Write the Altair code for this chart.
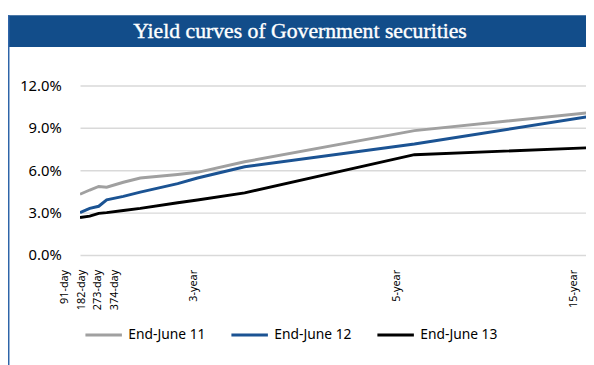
import altair as alt
import pandas as pd

# ---- data ----
positions = [0, 0.38, 0.73, 1.04, 1.69, 2.35, 3.81, 4.58, 6.42, 13.04, 20]
june11 = [4.3, 4.6, 4.85, 4.8, 5.15, 5.45, 5.7, 5.85, 6.6, 8.8, 10.1]
june12 = [3.0, 3.3, 3.45, 3.9, 4.15, 4.45, 5.05, 5.45, 6.25, 7.85, 9.85]
june13 = [2.65, 2.75, 2.95, 3.0, 3.15, 3.3, 3.7, 3.9, 4.4, 7.1, 7.6]
series = ["End-June 11", "End-June 12", "End-June 13"]
colors = ["#a0a0a0", "#1b5393", "#000000"]
tick_labels = ["91-day", "182-day", "273-day", "374-day", "3-year", "5-year", "15-year"]
tick_label_pos = [-0.58, 0.08, 0.69, 1.38, 4.46, 12.38, 19.27]
tick_marks = list(range(0, 20))
y_ticks = [0, 3, 6, 9, 12]
title = "Yield curves of Government securities"

X_DOMAIN = [0, 19.73]

df = pd.DataFrame({"pos": positions, series[0]: june11, series[1]: june12, series[2]: june13})
long = df.melt(id_vars="pos", var_name="series", value_name="yield")
labels_df = pd.DataFrame({"lpos": tick_label_pos, "label": tick_labels})
title_df = pd.DataFrame({"t": [title]})

xscale = alt.Scale(domain=X_DOMAIN, nice=False, zero=False)

lines = alt.Chart(long).mark_line(strokeWidth=3, clip=True).encode(
    x=alt.X("pos:Q", scale=xscale,
            axis=alt.Axis(title=None, labels=False, grid=False, values=tick_marks,
                          domainColor="#d0d0d0", domainWidth=1.5, tickColor="#c8c8c8",
                          tickWidth=1.5, tickSize=6)),
    y=alt.Y("yield:Q", scale=alt.Scale(domain=[0, 12], nice=False),
            axis=alt.Axis(title=None, values=y_ticks, grid=True, gridColor="#d9d9d9",
                          gridWidth=1.5, domain=False, ticks=False, labelPadding=19,
                          labelFont="Noto Sans", labelFontSize=15, labelColor="#000000",
                          labelExpr="format(datum.value, '.1f') + '%'")),
    color=alt.Color("series:N", scale=alt.Scale(domain=series, range=colors),
                    legend=alt.Legend(title=None, orient="none", legendX=4, legendY=233,
                                      direction="horizontal", symbolType="stroke",
                                      symbolSize=1369, symbolStrokeWidth=3,
                                      labelFont="Noto Sans", labelFontSize=14,
                                      labelColor="#000000", labelOffset=5,
                                      columnPadding=19)),
    order="pos:Q",
)

xlabels = alt.Chart(labels_df).mark_text(
    angle=270, align="right", baseline="middle", font="Noto Sans", fontSize=11, color="#000000"
).encode(
    x=alt.X("lpos:Q", scale=xscale, axis=None),
    y=alt.value(187),
    text="label:N",
)

bar = alt.Chart(title_df).mark_rect(color="#124d8a").encode(
    x=alt.value(-74), x2=alt.value(513), y=alt.value(-71), y2=alt.value(-39)
)
title_text = alt.Chart(title_df).mark_text(
    font="Liberation Serif", fontSize=22, color="white", stroke="white", strokeWidth=0.4,
    align="center", baseline="middle"
).encode(x=alt.value(223), y=alt.value(-55), text="t:N")
border = alt.Chart(title_df).mark_rule(color="#2e64a8", strokeWidth=2).encode(
    x=alt.value(-72.5), y=alt.value(-71), y2=alt.value(290)
)

chart = alt.layer(bar, title_text, border, lines, xlabels).properties(
    width=513, height=172,
    padding={"left": 73, "top": 76, "right": 0, "bottom": 109},
    autosize="none",
).configure_view(stroke=None)

chart.save("out.html", embed_options={"renderer": "svg", "actions": False})
